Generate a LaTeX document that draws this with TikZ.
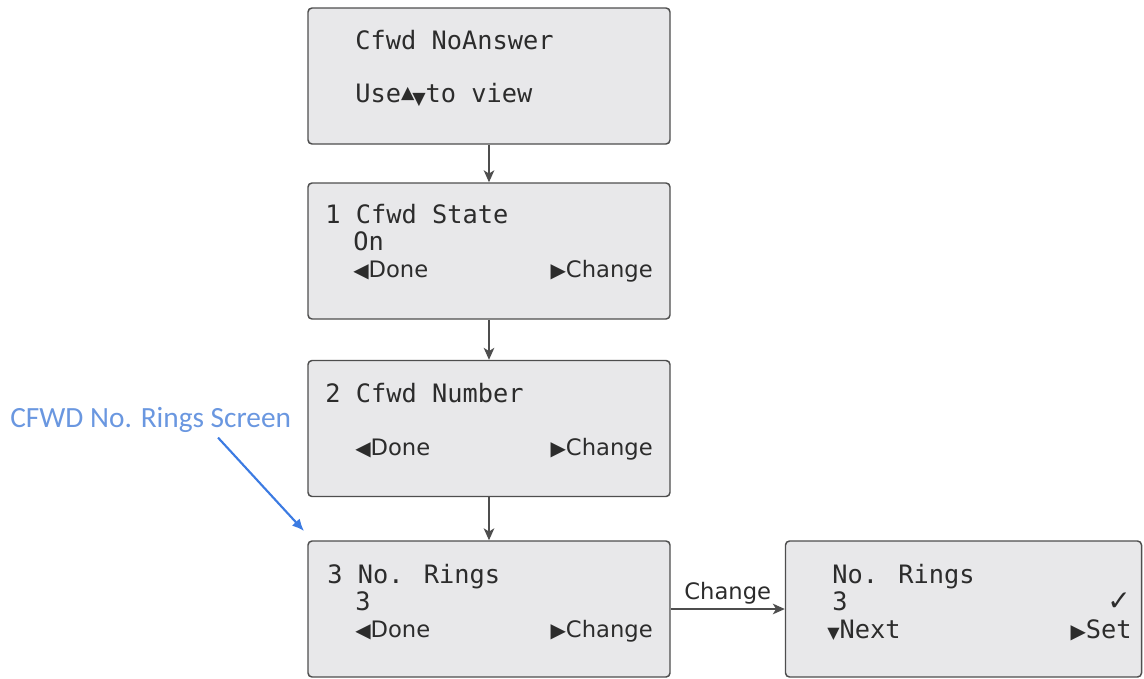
\documentclass[tikz,border=0pt]{standalone}
\usepackage{fontspec}
\usetikzlibrary{arrows.meta}

\newfontfamily\scrfont{DejaVu Sans Mono}
\newfontfamily\keyfont{DejaVu Sans}
\newfontfamily\notefont{Carlito}

% Colori
\definecolor{scrFill}{HTML}{E8E8EA}
\definecolor{scrLine}{HTML}{4E4E4E}
\definecolor{scrText}{HTML}{2C2C2C}
\definecolor{noteBlue}{HTML}{6A97E0}
\definecolor{arrowBlue}{HTML}{3C7BE2}

% Simboli dei tasti
\newcommand{\keyL}{{\keyfont\fontsize{15}{15}\selectfont ◀}}
\newcommand{\keyR}{{\keyfont\fontsize{15}{15}\selectfont ▶}}
\newcommand{\keyD}{{\keyfont\fontsize{12}{12}\selectfont ▼}}
\newcommand{\keyUD}{{\keyfont\fontsize{13}{13}\selectfont\raisebox{3pt}{▲}\kern-1.5pt\raisebox{-2pt}{▼}}}

\tikzset{
  screen/.style={draw=scrLine, fill=scrFill, line width=1.1pt, rounded corners=3pt,
    minimum width=271.5pt, minimum height=102pt, inner sep=0pt},
  scr/.style={anchor=base west, inner sep=0pt, text=scrText,
    font=\scrfont\fontsize{19}{21}\selectfont},
  key/.style={inner sep=0pt, text=scrText, font=\keyfont\fontsize{17}{19}\selectfont},
  flow/.style={draw=scrLine, line width=0.9pt, -{Stealth[length=9pt,width=8pt,inset=2.5pt]}},
  note/.style={inner sep=0pt, text=noteBlue, font=\notefont\fontsize{22}{24}\selectfont},
  notearrow/.style={draw=arrowBlue, line width=1.6pt, -{Latex[length=9pt,width=8pt]}}
}

\begin{document}
\begin{tikzpicture}[x=0.75pt, y=-0.75pt]

\useasboundingbox (0,0) rectangle (1144,678);

% Schermate
\node[screen] (s1) at (489,76) {};
\node[screen] (s2) at (489,251) {};
\node[screen] (s3) at (489,428.5) {};
\node[screen] (s4) at (489,609) {};
\node[screen, minimum width=267pt] (s5) at (963.5,609) {};

% Cfwd NoAnswer
\node[scr] (t1a) at (355,49) {Cfwd NoAnswer};
\node[scr] (t1b) at (355,102) {Use\keyUD to view};

% 1 Cfwd State
\node[scr] (t2a) at (325,223) {1 Cfwd State};
\node[scr] (t2b) at (353,250) {On};
\node[key, anchor=base west] (t2c) at (353,277) {\keyL Done};
\node[key, anchor=base east] (t2d) at (653,277) {\keyR Change};

% 2 Cfwd Number
\node[scr] (t3a) at (325,402) {2 Cfwd Number};
\node[key, anchor=base west] (t3c) at (355,455) {\keyL Done};
\node[key, anchor=base east] (t3d) at (653,455) {\keyR Change};

% 3 No. Rings
\node[scr] (t4a) at (327,583) {3 No. Rings};
\node[scr] (t4b) at (355,610) {3};
\node[key, anchor=base west] (t4c) at (355,637) {\keyL Done};
\node[key, anchor=base east] (t4d) at (653,637) {\keyR Change};

% No. Rings (modifica)
\node[scr] (t5a) at (832,583) {No. Rings};
\node[scr] (t5b) at (832,610) {3};
\node[scr] (t5c) at (827,638) {\keyD Next};
\node[scr, anchor=base east] (t5d) at (1132,638) {\keyR Set};
\node[key, anchor=base east, font=\keyfont\fontsize{21}{23}\selectfont] (t5e) at (1131,610) {✓};

% Frecce
\draw[flow] (s1) -- (s2);
\draw[flow] (s2) -- (s3);
\draw[flow] (s3) -- (s4);
\draw[flow] (s4) -- node[key, above=3pt] (lchg) {Change} (s5);

% Nota
\node[note, anchor=base west] (rnote) at (10,427) {CFWD No. Rings Screen};
\coordinate (rtip) at (304,531);
\draw[notearrow] ([xshift=-55pt, yshift=-4pt]rnote.south east) -- (rtip);

\end{tikzpicture}
\end{document}
